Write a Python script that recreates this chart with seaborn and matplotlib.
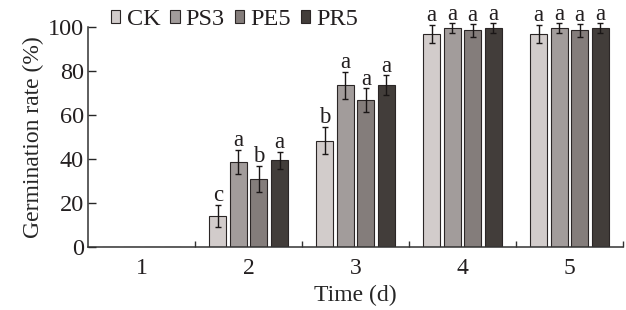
import matplotlib
matplotlib.use("Agg")
import matplotlib.pyplot as plt
import numpy as np
import pandas as pd
import seaborn as sns

# Data
days = ["1", "2", "3", "4", "5"]
groups = ["CK", "PS3", "PE5", "PR5"]
ck = [0, 14.3, 48.4, 96.8, 96.8]
ps3 = [0, 38.6, 73.5, 99.4, 99.4]
pe5 = [0, 31.0, 66.8, 98.4, 98.4]
pr5 = [0, 39.4, 73.5, 99.4, 99.4]
ck_err = [0, 5.0, 6.2, 4.2, 4.2]
ps3_err = [0, 5.5, 6.2, 2.2, 2.2]
pe5_err = [0, 6.0, 5.3, 2.8, 2.8]
pr5_err = [0, 4.0, 4.5, 2.2, 2.2]
ck_sig = ["", "c", "b", "a", "a"]
ps3_sig = ["", "a", "a", "a", "a"]
pe5_sig = ["", "b", "a", "a", "a"]
pr5_sig = ["", "a", "a", "a", "a"]

colors = ["#d3cbca", "#a39b9a", "#857c7a", "#433c39"]

vals = [ck, ps3, pe5, pr5]
errs = [ck_err, ps3_err, pe5_err, pr5_err]
sigs = [ck_sig, ps3_sig, pe5_sig, pr5_sig]

df = pd.DataFrame({
    "day": [d for g in groups for d in days],
    "group": [g for g in groups for d in days],
    "rate": [v for s in vals for v in s],
})

sns.set_style("ticks")
plt.rcParams["font.family"] = ["Liberation Serif", "DejaVu Serif"]
plt.rcParams["text.color"] = "#231f20"

fig = plt.figure(figsize=(6.26, 3.1), dpi=100)
ax = fig.add_axes([0.141, 0.203, 0.854, 0.71])

sns.barplot(data=df, x="day", y="rate", hue="group", order=days, hue_order=groups,
            palette=colors, errorbar=None, width=0.77, gap=0.18,
            edgecolor="#2b2626", linewidth=0.8, ax=ax, legend=True)

# error bars and significance letters on the bars seaborn drew
bar_groups = list(ax.containers)
for i, cont in enumerate(bar_groups):
    for j, bar in enumerate(cont):
        if vals[i][j] == 0:
            continue
        cx = bar.get_x() + bar.get_width() / 2
        top = bar.get_height()
        ax.errorbar(cx, top, yerr=errs[i][j], fmt="none", ecolor="#1a1616",
                    elinewidth=1, capsize=2, capthick=1, clip_on=False)
        ax.text(cx, top + errs[i][j] + 1.6, sigs[i][j], ha="center", va="baseline",
                fontsize=16.5, clip_on=False)

ax.set_xlim(-0.5, 4.5)
ax.set_ylim(0, 100)
ax.set_yticks([0, 20, 40, 60, 80, 100])
ax.set_xticks(np.arange(len(days)))
ax.set_xticks(np.arange(len(days)) + 0.5, minor=True)
ax.tick_params(axis="x", which="major", length=0, labelsize=17, pad=8)
ax.tick_params(axis="x", which="minor", direction="in", length=4, width=1, color="#333")
ax.tick_params(axis="y", direction="in", length=6, width=1, labelsize=17.5, pad=3)
for lab in ax.get_xticklabels() + ax.get_yticklabels():
    lab.set_color("#231f20")

sns.despine(ax=ax)
for s in ["left", "bottom"]:
    ax.spines[s].set_linewidth(1.1)
    ax.spines[s].set_color("#333")

ax.set_xlabel("Time (d)", fontsize=17, labelpad=4)
ax.set_ylabel("Germination rate (%)", fontsize=17, labelpad=3)

ax.legend(loc="lower left", bbox_to_anchor=(0.042, 0.985), ncol=4, frameon=False,
          fontsize=17.5, handlelength=0.4, handleheight=0.4, handletextpad=0.25,
          columnspacing=0.4, borderaxespad=0, borderpad=0)

fig.savefig("out.png", dpi=100)
